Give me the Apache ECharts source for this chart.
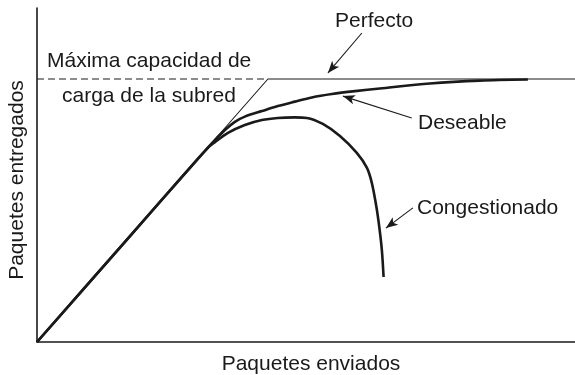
<!DOCTYPE html>
<html>
<head>
<meta charset="utf-8">
<script src="https://cdn.jsdelivr.net/npm/echarts@6/dist/echarts.min.js"></script>
<style>
html,body{margin:0;padding:0;background:#fff;}
#c{width:575px;height:375px;}
</style>
</head>
<body>
<div id="c"></div>
<script>
// Data (x: paquetes enviados, y: paquetes entregados; 100 = capacidad máxima)
const xName = 'Paquetes enviados';
const yName = 'Paquetes entregados';
const perfecto = [[0, 0], [100, 100], [233, 100]];
const capacidadLine = [[0, 100], [100, 100]];
const deseable = [[0, 0], [40, 40], [60, 60], [75, 74.9], [81.4, 80.6], [85.7, 83.7], [90.0, 85.7], [97.4, 87.8], [104.3, 89.7], [111.7, 91.4], [119.0, 93.0], [127.7, 94.3], [137.7, 95.4], [148.5, 96.4], [170.1, 98.3], [191.8, 99.4], [212.6, 99.8]];
const congestionado = [[0, 0], [40, 40], [65, 65], [74.0, 73.8], [77.1, 76.0], [82.7, 79.5], [90.0, 82.5], [97.4, 84.4], [104.3, 85.2], [111.7, 85.4], [116.9, 85.2], [123.8, 82.9], [131.2, 78.3], [138.5, 71.9], [142.9, 66.2], [145.0, 60.5], [147.0, 51.3], [148.4, 42.6], [149.4, 34.5], [150.1, 24.7]];
// arrows: [tail, tip]
const arrowPerfecto = [[140.7, 117.5], [126.0, 102.3]];
const arrowDeseable = [[162.3, 85.2], [132.5, 93.5]];
const arrowCongestionado = [[162.8, 51.0], [151.1, 43.3]];
const labels = [
  {text: 'Máxima capacidad de', x: 47, y: 61, align: 'left'},
  {text: 'carga de la subred', x: 62, y: 96, align: 'left'},
  {text: 'Perfecto', x: 335, y: 21, align: 'left'},
  {text: 'Deseable', x: 418, y: 123, align: 'left'},
  {text: 'Congestionado', x: 417, y: 208, align: 'left'}
];

const ink = '#1a1a1a';
const font = '"Liberation Sans", Arial, Helvetica, sans-serif';
const fs = 21;

const chart = echarts.init(document.getElementById('c'), null, {renderer: 'canvas'});

function arrowLine(a) {
  return [{coord: a[0], symbol: 'none'}, {coord: a[1], symbol: 'arrow'}];
}

chart.setOption({
  animation: false,
  backgroundColor: '#fff',
  grid: {left: 37, right: 0, top: 8, bottom: 33, containLabel: false, outerBoundsMode: 'none'},
  xAxis: {
    type: 'value', min: 0, max: 233,
    name: xName, nameLocation: 'middle', nameGap: 12,
    nameTextStyle: {fontFamily: font, fontSize: fs, color: ink, padding: [0, 0, 0, 10], verticalAlign: 'top'},
    axisLine: {lineStyle: {color: ink, width: 1.6}},
    axisTick: {show: false}, axisLabel: {show: false}, splitLine: {show: false}
  },
  yAxis: {
    type: 'value', min: 0, max: 127,
    name: yName, nameLocation: 'middle', nameGap: 9, nameRotate: 90,
    nameTextStyle: {fontFamily: font, fontSize: fs, color: ink, padding: [0, 10, 0, 0]},
    axisLine: {lineStyle: {color: ink, width: 1.6}},
    axisTick: {show: false}, axisLabel: {show: false}, splitLine: {show: false}
  },
  series: [
    {
      name: 'Capacidad', type: 'line', data: capacidadLine, showSymbol: false, silent: true,
      lineStyle: {color: ink, width: 1, type: [7, 4]}
    },
    {
      name: 'Perfecto', type: 'line', data: perfecto, showSymbol: false, silent: true,
      lineStyle: {color: ink, width: 1.1},
      markLine: {
        silent: true, symbolSize: [7, 12],
        lineStyle: {color: ink, width: 1.1, type: 'solid'},
        label: {show: false},
        data: [arrowLine(arrowPerfecto), arrowLine(arrowDeseable), arrowLine(arrowCongestionado)]
      }
    },
    {
      name: 'Deseable', type: 'line', data: deseable, showSymbol: false, silent: true,
      smooth: 0.3,
      lineStyle: {color: ink, width: 2.6}
    },
    {
      name: 'Congestionado', type: 'line', data: congestionado, showSymbol: false, silent: true,
      smooth: 0.3,
      lineStyle: {color: ink, width: 2.6}
    }
  ],
  graphic: labels.map(l => ({
    type: 'text', x: l.x, y: l.y, silent: true,
    style: {text: l.text, fill: ink, font: fs + 'px ' + font, align: l.align, verticalAlign: 'middle', textAlign: l.align, textVerticalAlign: 'middle'}
  }))
});
</script>
</body>
</html>
